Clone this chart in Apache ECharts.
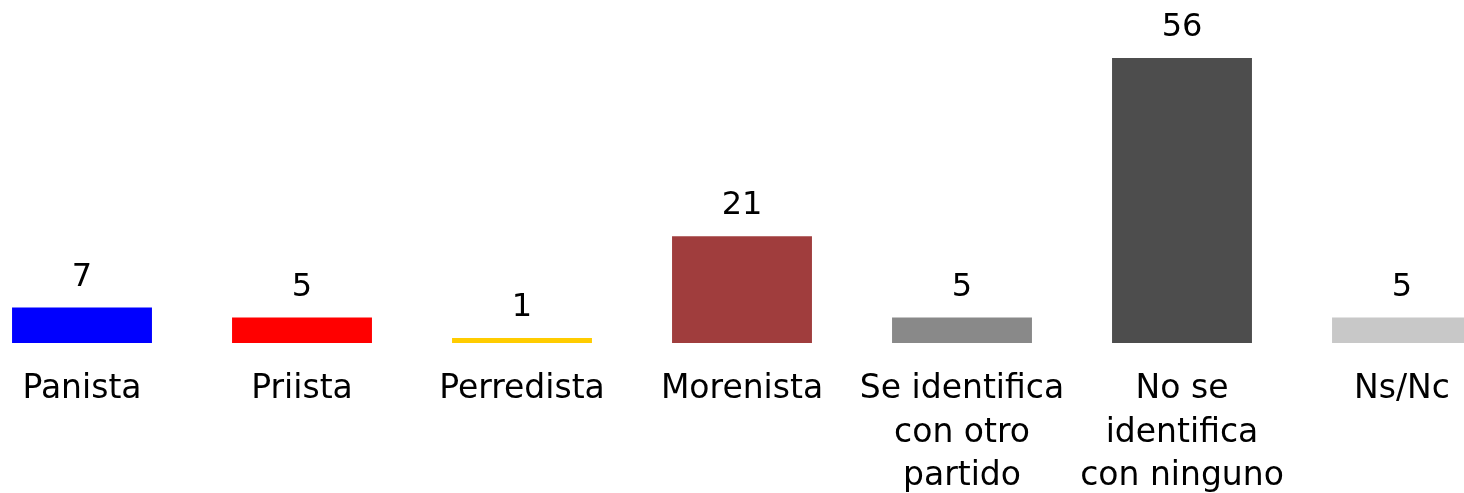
<!DOCTYPE html>
<html>
<head>
<meta charset="utf-8">
<script src="https://cdn.jsdelivr.net/npm/echarts@6/dist/echarts.min.js"></script>
<style>html,body{margin:0;padding:0;background:#fff;}#c{width:1464px;height:493px;}</style>
</head>
<body>
<div id="c"></div>
<script>
const categories = ['Panista', 'Priista', 'Perredista', 'Morenista', 'Se identifica\ncon otro\npartido', 'No se\nidentifica\ncon ninguno', 'Ns/Nc'];
const values = [7, 5, 1, 21, 5, 56, 5];
const colors = ['#0000FF', '#FF0000', '#FFCC00', '#A03D3D', '#898989', '#4D4D4D', '#C8C8C8'];

const chart = echarts.init(document.getElementById('c'), null, {renderer: 'canvas'});
chart.setOption({
  animation: false,
  grid: {left: -28, width: 1540, top: 58, bottom: 150, containLabel: false, outerBoundsMode: 'none'},
  xAxis: {
    type: 'category',
    data: categories,
    axisLine: {show: false},
    axisTick: {show: false},
    axisLabel: {
      interval: 0,
      margin: 25,
      fontFamily: 'DejaVu Sans',
      fontSize: 33,
      lineHeight: 43.5,
      color: '#000'
    }
  },
  yAxis: {
    type: 'value', min: 0, max: 56,
    show: false,
    splitLine: {show: false}
  },
  series: [{
    type: 'bar',
    data: values.map((v, i) => ({value: v, itemStyle: {color: colors[i]}})),
    barCategoryGap: '36.4%',
    label: {
      show: true,
      position: 'top',
      distance: 14,
      fontFamily: 'DejaVu Sans',
      fontSize: 32,
      color: '#000'
    }
  }]
});
</script>
</body>
</html>
